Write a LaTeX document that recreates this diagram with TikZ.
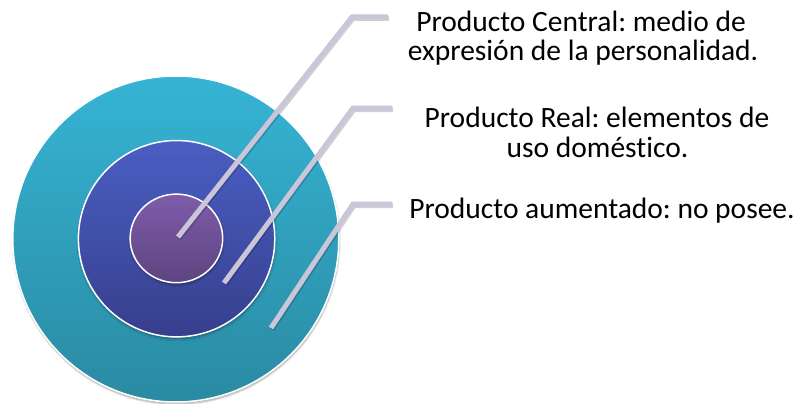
\documentclass[tikz,border=0pt]{standalone}
\usepackage{fontspec}
\setmainfont{Carlito}[Ligatures=CommonOff]
\usetikzlibrary{shadows.blur}
\definecolor{outtop}{HTML}{36B4D4}
\definecolor{outbot}{HTML}{2A8AA2}
\definecolor{midtop}{HTML}{4A5EC2}
\definecolor{midbot}{HTML}{363F8C}
\definecolor{intop}{HTML}{7E5CAA}
\definecolor{inbot}{HTML}{5E4480}
\definecolor{leader}{HTML}{CAC5D9}
\begin{document}
\frenchspacing
\begin{tikzpicture}[x=1pt,y=-1pt,
  ring/.style={draw=white,line width=1.5pt,
    blur shadow={shadow xshift=0.5pt,shadow yshift=-2pt,shadow blur steps=6,shadow opacity=35}},
  leaderline/.style={draw=leader,line width=5pt,
    preaction={draw=black,opacity=0.18,line width=5pt,transform canvas={shift={(1pt,-1.5pt)}}}},
  lbl/.style={font=\fontsize{29.5}{29.5}\selectfont\frenchspacing,inner sep=0pt,anchor=base}]
\useasboundingbox (0,0) rectangle (798,404);
\path[ring,top color=outtop,bottom color=outbot] (175.8,239) circle[radius=163];
\path[ring,top color=midtop,bottom color=midbot] (176.6,238.7) circle[radius=98.2];
\path[ring,top color=intop,bottom color=inbot] (176.4,238.4) ellipse[x radius=46.3,y radius=44.3];
\coordinate (c1) at (178,237);
\coordinate (k1) at (352,17);
\coordinate (e1) at (388,17);
\coordinate (c2) at (224,283);
\coordinate (k2) at (353,108);
\coordinate (e2) at (392,108);
\coordinate (c3) at (271,328);
\coordinate (k3) at (353,204);
\coordinate (e3) at (392,204);
\draw[leaderline] (c1) -- (k1) -- (e1);
\draw[leaderline] (c2) -- (k2) -- (e2);
\draw[leaderline] (c3) -- (k3) -- (e3);
\node[lbl] (t1a) at (581,32) {Producto Central: medio de};
\node[lbl] (t1b) at (583,60) {expresión de la personalidad.};
\node[lbl] (t2a) at (597,128) {Producto Real: elementos de};
\node[lbl] (t2b) at (597.5,157) {uso doméstico.};
\node[lbl] (t3) at (602,218) {Producto aumentado: no posee.};
\end{tikzpicture}
\end{document}
